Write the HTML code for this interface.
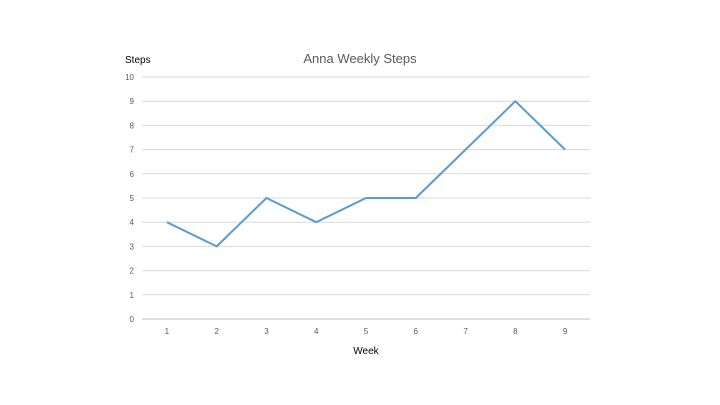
<!DOCTYPE html>
<html><head><meta charset="utf-8"><style>
html,body{margin:0;padding:0;background:#fff;}
svg{display:block;font-family:"Liberation Sans",sans-serif;}
</style></head><body>
<svg id="chart" width="720" height="405">
<text x="360" y="63" text-anchor="middle" font-size="13" fill="#595959">Anna Weekly Steps</text>
<text x="125" y="63" font-size="10" fill="#000">Steps</text>
<text x="366" y="354" text-anchor="middle" font-size="10" fill="#000">Week</text>
<g id="grid"></g><g id="xt"></g><g id="yt"></g><g id="series"></g>
</svg>
<script>
const categories=["1","2","3","4","5","6","7","8","9"];
const steps=[4,3,5,4,5,5,7,9,7];
const yTicks=[0,1,2,3,4,5,6,7,8,9,10];
const NS="http://www.w3.org/2000/svg";
const L=142,R=590,T=77,B=319,yMax=10;
const bw=(R-L)/categories.length;
function xs(i){return L+bw*(i+0.5);}
function ys(v){return B-(v/yMax)*(B-T);}
function mk(t,a,p){const e=document.createElementNS(NS,t);for(const k in a)e.setAttribute(k,a[k]);p.appendChild(e);return e;}
const grid=document.getElementById('grid'),yt=document.getElementById('yt'),xt=document.getElementById('xt'),se=document.getElementById('series');
yTicks.forEach(v=>{
 const l=mk('line',{x1:L,x2:R,y1:ys(v),y2:ys(v),stroke:v===0?'#bfbfbf':'#d9d9d9','stroke-width':1},grid);
 
 
 const t=mk('text',{x:134,y:ys(v)+3,'text-anchor':'end','font-size':8,fill:'#595959'},yt);
 t.textContent=v;
 
 
});
categories.forEach((c,i)=>{
 const t=mk('text',{x:xs(i),y:334,'text-anchor':'middle','font-size':8,fill:'#595959'},xt);
 t.textContent=c;
 
 
});
const p=mk('polyline',{points:steps.map((v,i)=>xs(i)+','+ys(v)).join(' '),fill:'none',stroke:'#5b9bd5','stroke-width':2,'stroke-linejoin':'round'},se);


</script>
</body></html>
